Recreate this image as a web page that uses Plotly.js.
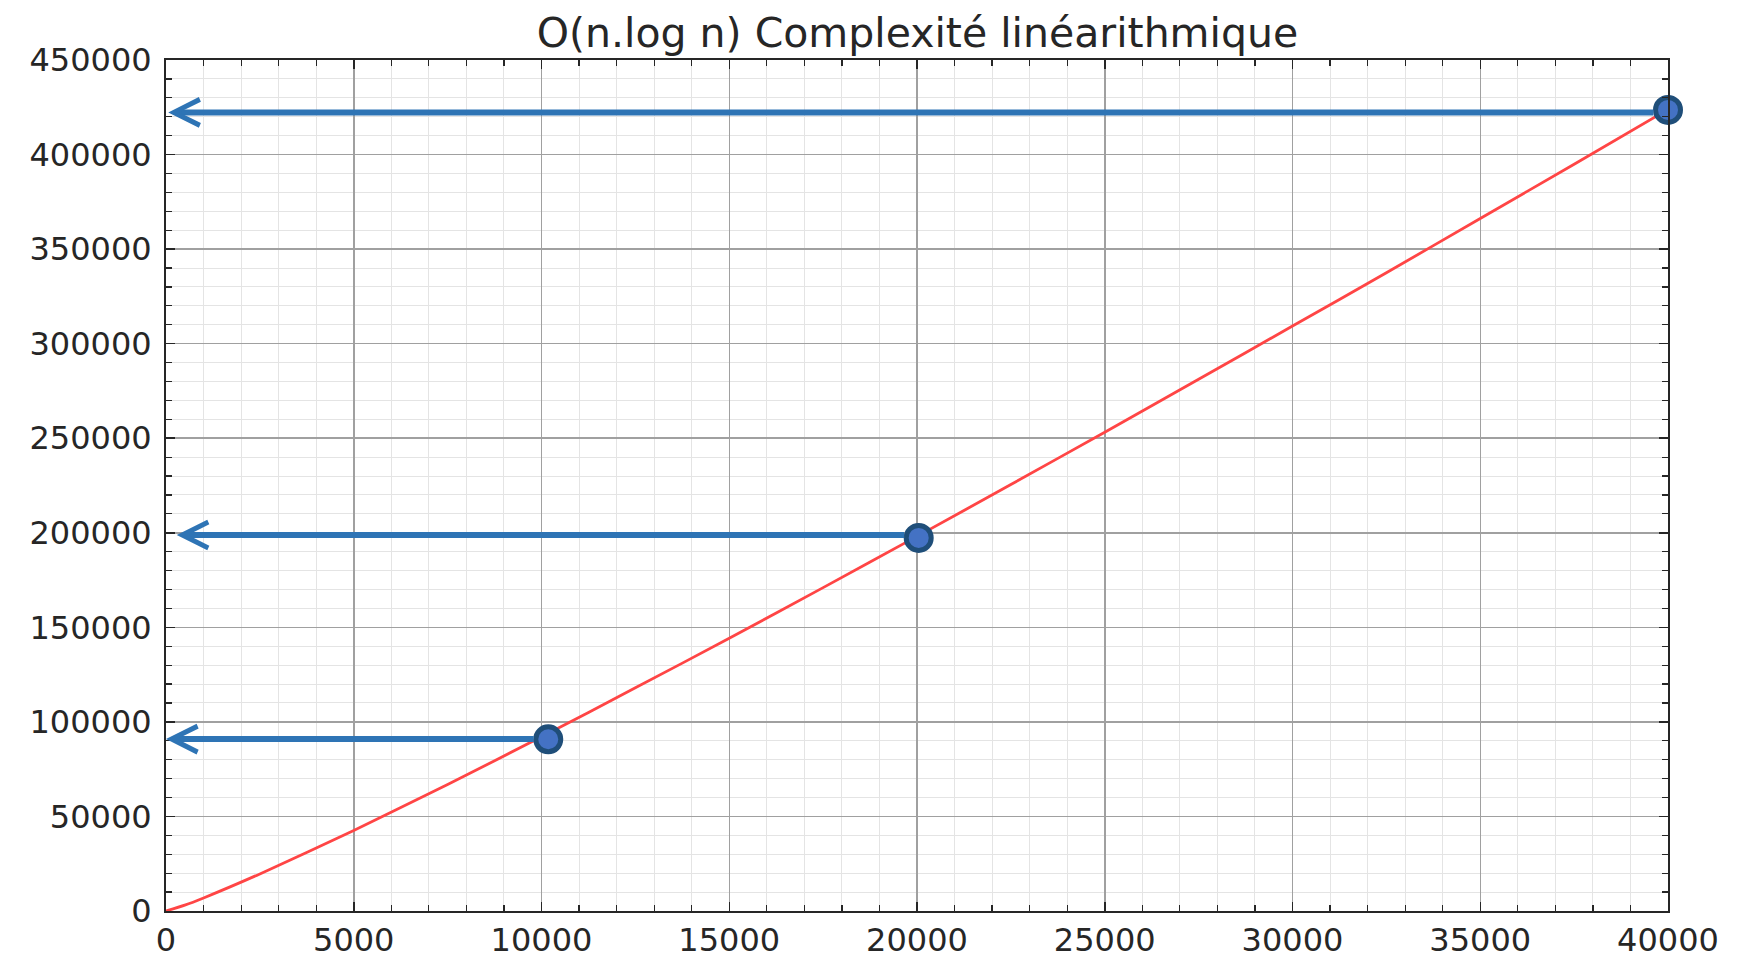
<!DOCTYPE html>
<html>
<head>
<meta charset="utf-8">
<script src="https://cdn.plot.ly/plotly-3.0.1.min.js"></script>
<style>html,body{margin:0;padding:0;background:#fff;}#chart{width:1741px;height:966px;}</style>
</head>
<body>
<div id="chart"></div>
<script>
// Red curve (n.log n)
var curveX = [0, 500, 1000, 2500, 5000, 7500, 10000, 12500, 15000, 17500, 20000, 22500, 25000, 27500, 30000, 32500, 35000, 37500, 40000];
var curveY = [0, 3100, 6900, 19600, 42600, 66900, 92100, 118000, 144200, 171000, 198100, 225500, 253200, 281200, 309300, 337500, 366200, 394900, 423900];

// Highlighted points
var pointX = [10180, 20045, 40000];
var pointY = [90800, 197300, 423600];

// Arrows: tail at the point, head towards the y axis
var arrowTipX = [0, 285, 60];
var arrowY = [90900, 198800, 422300];

var titleText = 'O(n.log n) Complexité linéarithmique';

var FONT = 'DejaVu Sans, Liberation Sans, sans-serif';
var BLUE = '#2e74b5';

var traces = [
  {
    x: curveX, y: curveY, type: 'scatter', mode: 'lines',
    line: {color: '#ff4545', width: 2.8, shape: 'spline', smoothing: 0.6},
    hoverinfo: 'skip', cliponaxis: true
  },
  {
    x: pointX, y: pointY, type: 'scatter', mode: 'markers',
    marker: {size: 25, color: '#4472c4', line: {color: '#1f4e79', width: 5}},
    cliponaxis: false
  }
];

var annotations = arrowTipX.map(function (tx, i) {
  return {
    x: tx, y: arrowY[i], xref: 'x', yref: 'y',
    ax: pointX[i], ay: arrowY[i], axref: 'x', ayref: 'y',
    text: '', showarrow: true,
    arrowhead: 5, arrowsize: 0.85, arrowwidth: 6, arrowcolor: BLUE,
    startstandoff: 13
  };
});

function axisCommon() {
  return {
    showgrid: true, gridcolor: '#a0a0a0', gridwidth: 1.5,
    showline: true, linecolor: '#262626', linewidth: 2, mirror: 'allticks',
    ticks: 'inside', ticklen: 9, tickwidth: 1.5, tickcolor: '#262626',
    zeroline: false, tickformat: 'd',
    tickfont: {family: FONT, size: 32, color: '#262626'},
    ticklabelstandoff: 6
  };
}

var xaxis = axisCommon();
xaxis.range = [0, 40000]; xaxis.tick0 = 0; xaxis.dtick = 5000;
xaxis.minor = {dtick: 1000, ticks: 'inside', ticklen: 6, tickwidth: 1.2, tickcolor: '#262626', showgrid: true, gridcolor: '#e4e4e4', gridwidth: 1};
xaxis.ticklabelstandoff = 0;

var yaxis = axisCommon();
yaxis.range = [0, 450000]; yaxis.tick0 = 0; yaxis.dtick = 50000;
yaxis.minor = {dtick: 10000, ticks: 'inside', ticklen: 6, tickwidth: 1.2, tickcolor: '#262626', showgrid: true, gridcolor: '#e4e4e4', gridwidth: 1};

var layout = {
  width: 1741, height: 966,
  margin: {l: 166, r: 73, t: 60, b: 55},
  paper_bgcolor: '#ffffff', plot_bgcolor: '#ffffff',
  showlegend: false,
  title: {text: titleText, font: {family: FONT, size: 41, color: '#262626'}, x: 0.527, xanchor: 'center', y: 0.966, yanchor: 'middle', yref: 'container'},
  xaxis: xaxis, yaxis: yaxis,
  annotations: annotations
};

Plotly.newPlot('chart', traces, layout, {staticPlot: true});
</script>
</body>
</html>
